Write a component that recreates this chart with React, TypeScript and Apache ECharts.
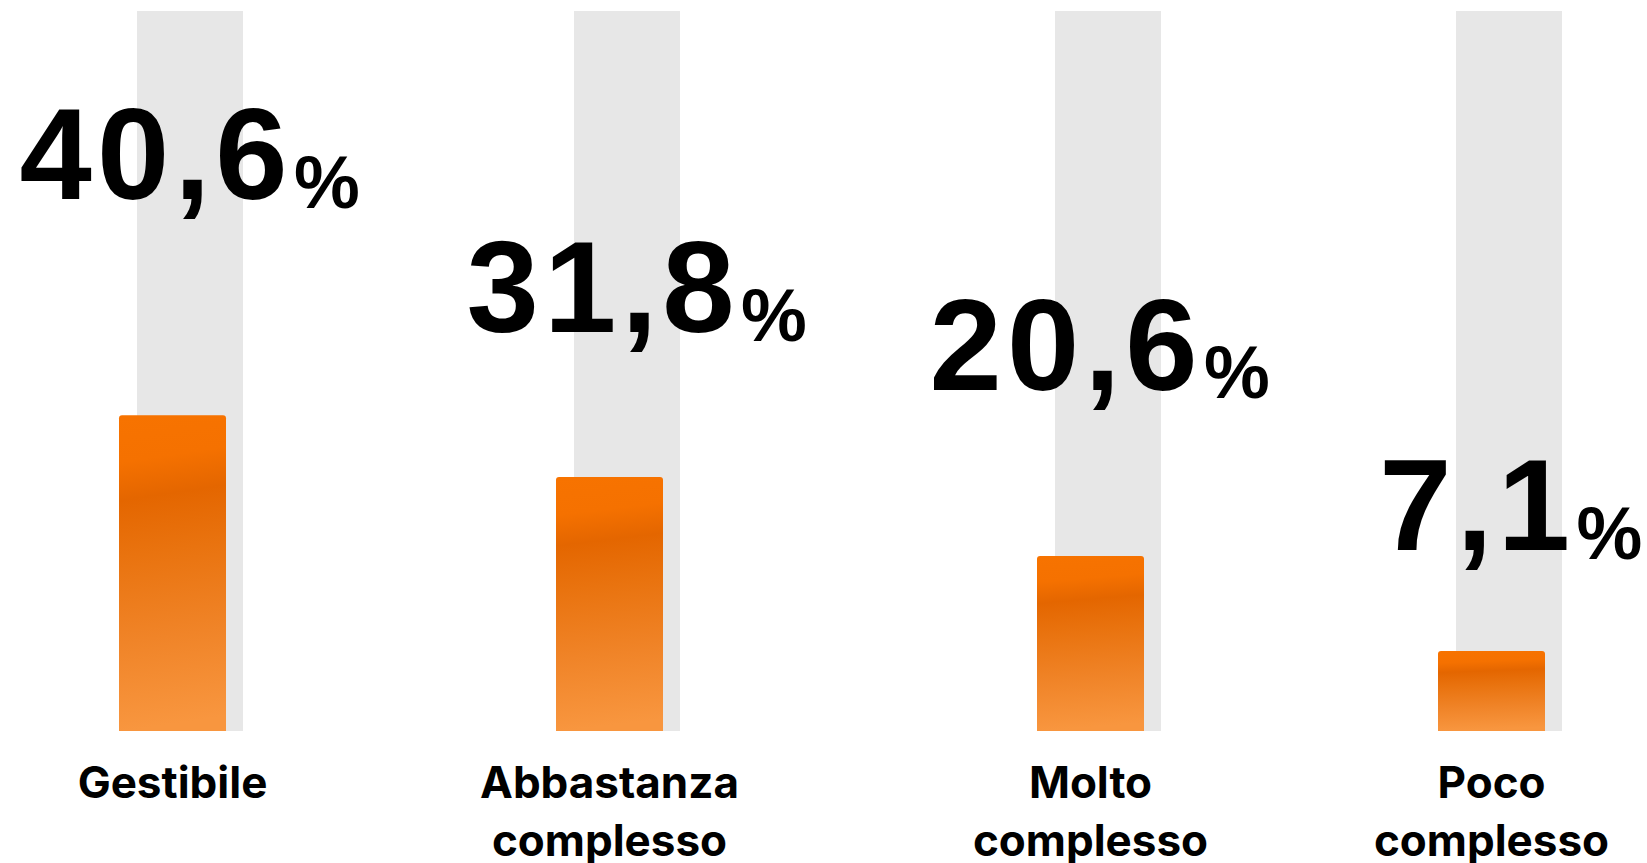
import React, { useEffect, useRef } from "react";
import * as echarts from "echarts";

// ---- data ----
const CATEGORIES = ["Gestibile", "Abbastanza complesso", "Molto complesso", "Poco complesso"];
const VALUES = [40.6, 31.8, 20.6, 7.1];

// ---- axis scale ----
const Y_MIN = -4.26;
const Y_MAX = 98;

// ---- layout (px) ----
const CENTERS = [172.5, 609.5, 1090.5, 1491.5];
const LABEL_DX = [16, 26, 8, 18];
const LABEL_DY = [-196, -125, -146, -81];

const orangeFill = {
  type: "linear",
  x: 0,
  y: 0,
  x2: 0.05,
  y2: 1,
  colorStops: [
    { offset: 0, color: "#F77300" },
    { offset: 0.15, color: "#F57100" },
    { offset: 0.27, color: "#E46600" },
    { offset: 0.45, color: "#E9730F" },
    { offset: 0.72, color: "#F08428" },
    { offset: 1, color: "#F8963F" },
  ],
};

const numFont = '"Liberation Sans", Arial, sans-serif';

export default function App() {
  const ref = useRef<HTMLDivElement>(null);
  useEffect(() => {
    if (!ref.current) return;
    const chart = echarts.init(ref.current, undefined, { renderer: "svg" });
    const grid: any[] = [];
    const xAxis: any[] = [];
    const yAxis: any[] = [];
    const series: any[] = [];
    CATEGORIES.forEach((cat, i) => {
      grid.push({
        left: CENTERS[i] - 100,
        width: 200,
        top: 11,
        bottom: 132,
        containLabel: false,
        outerBoundsMode: "none",
      });
      xAxis.push({
        type: "category",
        gridIndex: i,
        data: [cat],
        axisLine: { show: false },
        axisTick: { show: false },
        splitLine: { show: false },
        axisLabel: {
          formatter: (s: string) => s.replace(" ", "\n"),
          fontSize: 44,
          fontWeight: "bold",
          fontFamily: "Inter",
          color: "#000",
          lineHeight: 58,
          margin: 22,
          interval: 0,
        },
      });
      yAxis.push({
        type: "value",
        gridIndex: i,
        min: Y_MIN,
        max: Y_MAX,
        startValue: Y_MIN,
        show: false,
        splitLine: { show: false },
      });
      series.push({
        type: "pictorialBar",
        xAxisIndex: i,
        yAxisIndex: i,
        data: [Y_MAX],
        symbol: "rect",
        symbolSize: [106, "100%"],
        symbolOffset: [17.5, 0],
        symbolPosition: "start",
        itemStyle: { color: "#E7E7E7" },
        silent: true,
        z: 1,
      });
      series.push({
        type: "bar",
        xAxisIndex: i,
        yAxisIndex: i,
        barWidth: 107,
        z: 3,
        data: [
          {
            value: VALUES[i],
            label: { offset: [LABEL_DX[i], LABEL_DY[i]] },
          },
        ],
        itemStyle: { color: orangeFill, borderRadius: [3, 3, 0, 0] },
        label: {
          show: true,
          position: "top",
          distance: 0,
          formatter: (p: any) =>
            String(p.value)
              .replace(".", ",")
              .split("")
              .map((c) => `{n|${c}}`)
              .join("") + "{p|%}",
          rich: {
            n: {
              fontSize: 130,
              fontWeight: "bold",
              fontFamily: numFont,
              color: "#000",
              lineHeight: 130,
              verticalAlign: "bottom",
              padding: [0, 2.5, 0, 2.5],
            },
            p: {
              fontSize: 74,
              fontWeight: "bold",
              fontFamily: numFont,
              color: "#000",
              lineHeight: 91,
              verticalAlign: "bottom",
              padding: [0, 0, 0, 4],
            },
          },
        },
      });
    });
    chart.setOption({
      animation: false,
      backgroundColor: "#ffffff",
      grid,
      xAxis,
      yAxis,
      series,
    });
    return () => chart.dispose();
  }, []);
  return (
    <div
      ref={ref}
      style={{ position: "fixed", left: 0, top: 0, width: 1647, height: 863, background: "#fff" }}
    />
  );
}
